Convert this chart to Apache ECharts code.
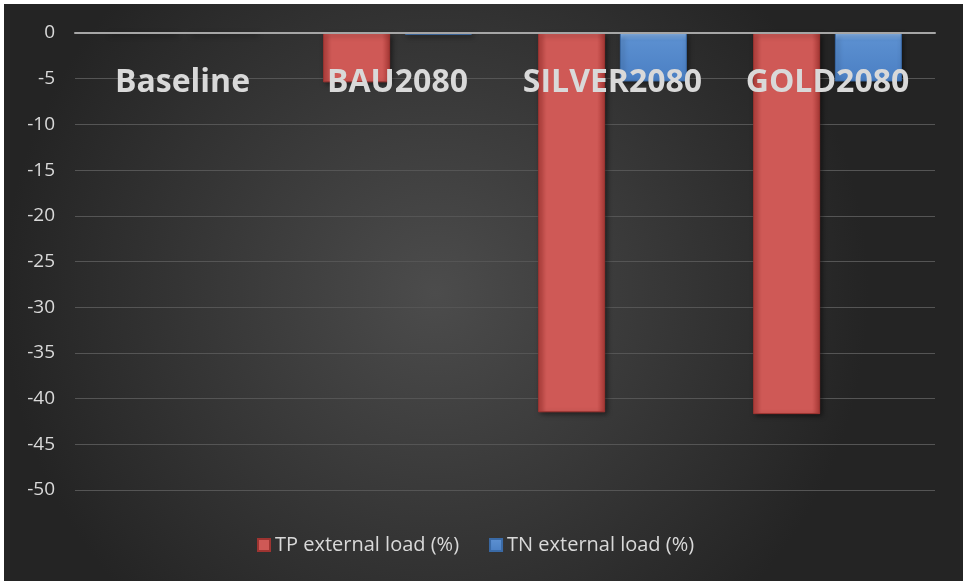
<!DOCTYPE html>
<html>
<head>
<meta charset="utf-8">
<script src="https://cdn.jsdelivr.net/npm/echarts@6/dist/echarts.min.js"></script>
<style>
  html, body { margin: 0; padding: 0; background: #fff; }
  #chart { position: absolute; left: 4px; top: 4px; width: 959px; height: 577px; }
</style>
</head>
<body>
<div id="chart"></div>
<script>
const categories = ['Baseline', 'BAU2080', 'SILVER2080', 'GOLD2080']
const tpLoad = [0, -5.4, -41.5, -41.7]
const tnLoad = [0, -0.2, -5.3, -5.3]
const seriesNames = ['TP external load (%)', 'TN external load (%)']

const chart = echarts.init(document.getElementById('chart'))

const redFill = new echarts.graphic.LinearGradient(0, 0, 1, 0, [
    { offset: 0, color: '#b8413e' },
    { offset: 0.12, color: '#cf5956' },
    { offset: 0.88, color: '#cf5956' },
    { offset: 1, color: '#a83835' }
])
const blueFill = new echarts.graphic.LinearGradient(0, 0, 0, 1, [
    { offset: 0, color: '#8ab6ea' },
    { offset: 0.15, color: '#5b8fd0' },
    { offset: 1, color: '#4a7fc3' }
])

const option = {
    backgroundColor: {
        type: 'radial', x: 0.45, y: 0.5, r: 0.75,
        colorStops: [
            { offset: 0, color: '#4c4c4c' },
            { offset: 1, color: '#242424' }
        ]
    },
    animation: false,
    grid: { left: 71, right: 28, top: 29, bottom: 91 },
    legend: {
        bottom: 21,
        left: 248,
        icon: 'rect',
        itemWidth: 12,
        itemHeight: 12,
        itemGap: 30,
        itemTextGap: 4,
        textStyle: { color: '#d9d9d9', fontSize: 20, fontFamily: 'Open Sans' },
        data: seriesNames
    },
    xAxis: {
        type: 'category',
        position: 'top',
        data: categories,
        z: 10,
        axisLine: { lineStyle: { color: '#a6a6a6', width: 2 } },
        axisTick: { show: false },
        axisLabel: {
            inside: true,
            interval: 0,
            hideOverlap: false,
            margin: 34,
            color: '#d9d9d9',
            fontSize: 32,
            fontWeight: 'bold',
            fontFamily: 'Open Sans'
        }
    },
    yAxis: {
        type: 'value',
        min: -50,
        max: 0,
        interval: 5,
        axisLine: { show: false },
        axisTick: { show: false },
        axisLabel: { color: '#d9d9d9', fontSize: 19, fontFamily: 'Open Sans', margin: 20 },
        splitLine: { lineStyle: { color: '#555555', width: 1 } }
    },
    series: [
        {
            name: seriesNames[0],
            type: 'bar',
            data: tpLoad,
            barWidth: 67,
            barGap: '22%',
            itemStyle: {
                color: redFill,
                borderColor: '#9e3431',
                borderWidth: 1,
                shadowBlur: 5,
                shadowOffsetX: 2,
                shadowOffsetY: 2,
                shadowColor: 'rgba(0,0,0,0.5)'
            }
        },
        {
            name: seriesNames[1],
            type: 'bar',
            data: tnLoad,
            barWidth: 67,
            itemStyle: {
                color: blueFill,
                borderColor: '#3a6aa6',
                borderWidth: 1,
                shadowBlur: 5,
                shadowOffsetX: 2,
                shadowOffsetY: 2,
                shadowColor: 'rgba(0,0,0,0.5)'
            }
        }
    ]
}

chart.setOption(option)
window.addEventListener('resize', () => chart.resize())
</script>
</body>
</html>
